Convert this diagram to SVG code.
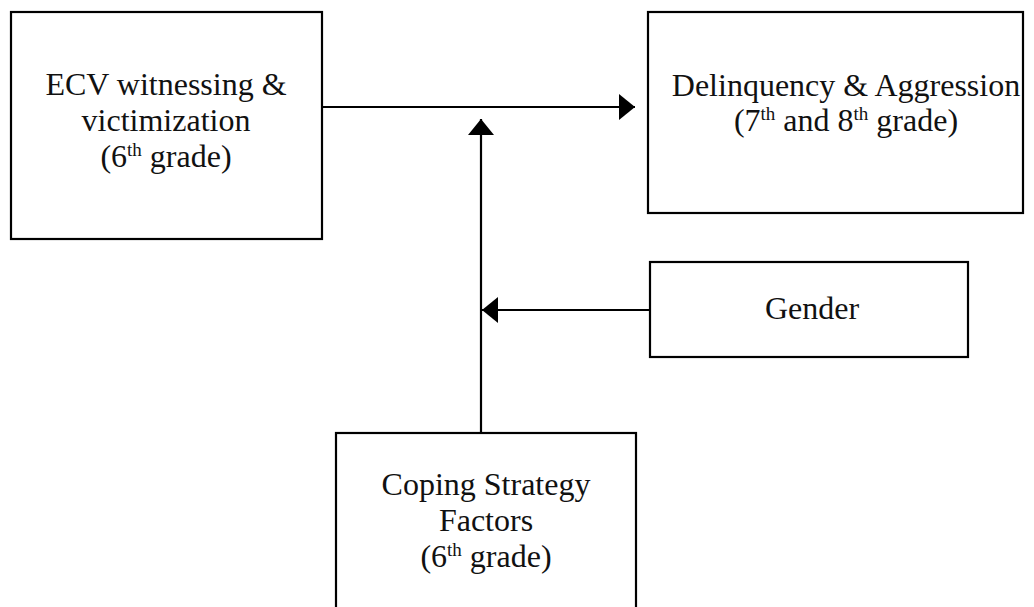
<svg xmlns="http://www.w3.org/2000/svg" width="1034" height="607" viewBox="0 0 1034 607">
<style>
.box{fill:#fff;stroke:#000;stroke-width:2.2}
.t{font-family:"Liberation Serif","Times New Roman",serif;font-size:32px;fill:#111;text-anchor:middle}
.sup{font-size:19px}
.ln{stroke:#000;stroke-width:2.2;fill:none}
</style>
<defs>
<marker id="ah" viewBox="0 0 16 26" refX="16" refY="13" markerWidth="16" markerHeight="26" markerUnits="userSpaceOnUse" orient="auto">
<path d="M0,0 L16,13 L0,26 Z" fill="#000"/>
</marker>
</defs>
<rect width="1034" height="607" fill="#fff"/>
<g id="connectors">
<line class="ln" x1="322" y1="107" x2="635" y2="107" marker-end="url(#ah)"/>
<line class="ln" x1="481" y1="433" x2="481" y2="119" marker-end="url(#ah)"/>
<line class="ln" x1="650" y1="310" x2="482" y2="310" marker-end="url(#ah)"/>
</g>
<g id="ecv">
<rect class="box" x="11" y="12" width="311" height="227"/>
<text class="t" x="166" y="95">ECV witnessing &amp;</text>
<text class="t" x="166" y="131">victimization</text>
<text class="t" x="166" y="167">(6<tspan class="sup" dy="-11">th</tspan><tspan dy="11"> grade)</tspan></text>
</g>
<g id="delinquency">
<rect class="box" x="648" y="12" width="375" height="201"/>
<text class="t" x="846" y="96">Delinquency &amp; Aggression</text>
<text class="t" x="846" y="131">(7<tspan class="sup" dy="-11">th</tspan><tspan dy="11"> and 8</tspan><tspan class="sup" dy="-11">th</tspan><tspan dy="11"> grade)</tspan></text>
</g>
<g id="gender">
<rect class="box" x="650" y="262" width="318" height="95"/>
<text class="t" x="812" y="319">Gender</text>
</g>
<g id="coping">
<rect class="box" x="336" y="433" width="300" height="190"/>
<text class="t" x="486" y="495">Coping Strategy</text>
<text class="t" x="486" y="531">Factors</text>
<text class="t" x="486" y="567">(6<tspan class="sup" dy="-11">th</tspan><tspan dy="11"> grade)</tspan></text>
</g>
</svg>
